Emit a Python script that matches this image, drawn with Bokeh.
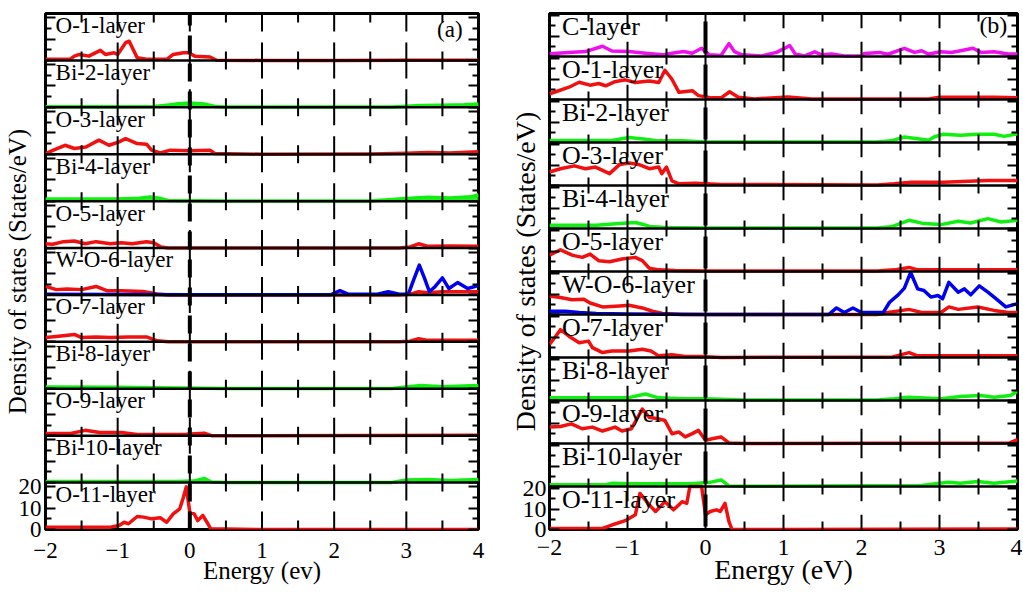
import math
from bokeh.plotting import figure
from bokeh.layouts import row
from bokeh.models import FixedTicker, LinearAxis, CustomJSTickFormatter, Range1d
from bokeh.embed import file_html
from bokeh.resources import INLINE
from bokeh.core.properties import value

FONT = "Liberation Serif"
RED = "#f01010"
GREEN = "#10f010"
BLUE = "#0000ee"
MAGENTA = "#ee10ee"

X_TICKS = [-2, -1, 0, 1, 2, 3, 4]
X_MINOR = [-1.5, -0.5, 0.5, 1.5, 2.5, 3.5]

# ---------------- panel (a) data ----------------
A_NAMES = ["O-1-layer", "Bi-2-layer", "O-3-layer", "Bi-4-layer", "O-5-layer", "W-O-6-layer",
           "O-7-layer", "Bi-8-layer", "O-9-layer", "Bi-10-layer", "O-11-layer"]

A_O1_E = [-2, -1.66, -1.6, -1.53, -1.4, -1.24, -1.17, -1.05, -1.0, -0.89, -0.84, -0.73, -0.6, -0.32, -0.23, -0.09, -0.02, 0.07, 0.28, 0.37, 1.0, 2.0, 3.0, 4.0]
A_O1_V = [0.5, 0.5, 2.0, 2.8, 2.0, 4.7, 2.8, 3.6, 2.8, 8.3, 9.0, 1.2, 0.5, 0.5, 2.8, 3.6, 3.6, 2.0, 1.6, 0.1, 0.0, 0.0, 0.1, 0.1]

A_BI2_E = [-2, -1.0, -0.5, -0.35, -0.2, 0.0, 0.2, 0.35, 0.5, 2.8, 3.2, 3.5, 3.8, 4.0]
A_BI2_V = [0.3, 0.3, 0.4, 0.9, 1.5, 2.0, 1.6, 0.4, 0.1, 0.1, 0.8, 1.0, 1.2, 1.6]

A_O3_E = [-2, -1.89, -1.73, -1.6, -1.44, -1.26, -1.12, -0.98, -0.89, -0.73, -0.6, -0.53, -0.41, -0.27, 0.0, 0.28, 0.35, 1.0, 2.5, 3.0, 3.3, 3.6, 4.0]
A_O3_V = [0.3, 1.9, 4.2, 2.7, 3.4, 6.6, 4.2, 5.8, 7.3, 5.0, 4.7, 1.9, 0.6, 1.9, 1.6, 1.9, 0.3, 0.0, 0.1, 0.4, 0.8, 0.6, 1.2]

A_BI4_E = [-2, -1.5, -1.0, -0.7, -0.55, -0.4, -0.3, 0.5, 2.5, 2.8, 3.0, 3.3, 3.6, 3.9, 4.0]
A_BI4_V = [1.0, 1.0, 1.0, 1.4, 2.0, 1.2, 0.3, 0.1, 0.1, 0.8, 1.2, 1.8, 1.5, 2.0, 3.0]

A_O5_E = [-2, -1.9, -1.75, -1.6, -1.45, -1.3, -1.1, -0.95, -0.8, -0.6, -0.5, -0.4, -0.3, 2.9, 3.05, 3.17, 3.3, 3.6, 4.0]
A_O5_V = [2.0, 1.8, 3.0, 3.3, 2.0, 3.0, 2.0, 2.5, 2.0, 3.0, 2.5, 0.5, 0.0, 0.0, 0.5, 2.0, 0.8, 1.0, 0.8]

A_O6_E = [-2, -1.85, -1.7, -1.5, -1.3, -1.15, -0.95, -0.65, -0.45, -0.3, 2.9, 3.05, 3.17, 3.3, 3.5, 4.0]
A_O6_V = [4.0, 2.5, 2.8, 2.5, 4.0, 2.0, 2.0, 1.6, 0.5, 0.0, 0.0, 0.3, 1.5, 1.0, 1.5, 1.5]

A_W6_E = [-2, -1, 0, 1, 1.95, 2.08, 2.2, 2.6, 2.75, 2.9, 3.03, 3.1, 3.18, 3.25, 3.32, 3.4, 3.5, 3.59, 3.71, 3.85, 3.96, 4.0]
A_W6_V = [0.3, 0.2, 0.1, 0.1, 0.1, 2.0, 0.3, 0.3, 1.5, 0.3, 0.5, 7.0, 14.0, 8.0, 1.5, 4.0, 8.0, 3.0, 5.8, 3.0, 4.0, 5.0]

A_O7_E = [-2, -1.85, -1.6, -1.5, -1.3, -1.1, -0.85, -0.6, -0.45, -0.3, 2.9, 3.05, 3.17, 3.3, 4.0]
A_O7_V = [2.0, 2.5, 3.5, 2.0, 2.3, 2.0, 2.3, 2.3, 0.5, 0.0, 0.0, 0.3, 1.5, 0.7, 0.7]

A_BI8_E = [-2, -1.0, -0.5, 0.5, 2.8, 3.0, 3.2, 3.5, 3.8, 4.0]
A_BI8_V = [0.8, 0.7, 0.5, 0.1, 0.1, 0.8, 1.5, 1.0, 1.3, 1.5]

A_O9_E = [-2, -1.65, -1.45, -1.25, -0.95, -0.7, -0.3, -0.05, 0.2, 0.3, 1.0, 4.0]
A_O9_V = [1.0, 1.0, 2.5, 1.5, 1.5, 0.5, 0.5, 0.7, 1.2, 0.0, 0.0, 0.2]

A_BI10_E = [-2, -1.0, -0.2, 0.05, 0.2, 0.3, 0.5, 2.8, 3.0, 3.3, 3.6, 4.0]
A_BI10_V = [0.5, 0.5, 0.5, 0.7, 2.0, 0.3, 0.1, 0.1, 1.2, 1.5, 1.0, 1.5]

A_O11_E = [-2, -1.1, -0.98, -0.91, -0.85, -0.73, -0.64, -0.53, -0.41, -0.32, -0.23, -0.14, -0.09, -0.05, 0.0, 0.06, 0.11, 0.18, 0.25, 0.29, 1.0, 4.0]
A_O11_V = [1.0, 1.1, 1.9, 3.4, 2.7, 6.1, 5.8, 5.0, 5.5, 3.4, 7.3, 9.7, 15.0, 20.0, 8.0, 7.3, 4.2, 6.6, 2.7, 0.3, 0.0, 0.0]

A_CURVES = [
    [(A_O1_E, A_O1_V, RED, False)],
    [(A_BI2_E, A_BI2_V, GREEN, True)],
    [(A_O3_E, A_O3_V, RED, False)],
    [(A_BI4_E, A_BI4_V, GREEN, True)],
    [(A_O5_E, A_O5_V, RED, False)],
    [(A_O6_E, A_O6_V, RED, False), (A_W6_E, A_W6_V, BLUE, False)],
    [(A_O7_E, A_O7_V, RED, False)],
    [(A_BI8_E, A_BI8_V, GREEN, True)],
    [(A_O9_E, A_O9_V, RED, False)],
    [(A_BI10_E, A_BI10_V, GREEN, True)],
    [(A_O11_E, A_O11_V, RED, False)],
]

# ---------------- panel (b) data ----------------
B_NAMES = ["C-layer", "O-1-layer", "Bi-2-layer", "O-3-layer", "Bi-4-layer", "O-5-layer", "W-O-6-layer",
           "O-7-layer", "Bi-8-layer", "O-9-layer", "Bi-10-layer", "O-11-layer"]

B_C_E = [-2, -1.75, -1.54, -1.32, -1.2, -0.98, -0.77, -0.55, -0.43, -0.28, -0.17, -0.05, 0.05, 0.2, 0.3, 0.37, 0.47, 0.72, 0.91, 1.08, 1.15, 1.27, 1.4, 1.49, 1.62, 1.78, 2.0, 2.04, 2.23, 2.34, 2.55, 2.68, 2.77, 2.86, 3.02, 3.15, 3.27, 3.43, 3.53, 3.7, 3.88, 4.0]
B_C_V = [1.3, 2.0, 2.4, 5.0, 2.7, 2.4, 1.6, 0.8, 1.6, 2.4, 1.6, 4.0, 0.8, 0.5, 6.3, 2.4, 0.8, 0.3, 2.0, 5.3, 1.2, 0.3, 2.3, 0.8, 1.2, 0.3, 0.3, 1.5, 2.0, 1.1, 4.0, 2.0, 2.8, 1.2, 2.3, 2.0, 2.8, 4.0, 2.0, 2.3, 1.2, 1.2]

B_O1_E = [-2, -1.92, -1.75, -1.62, -1.48, -1.37, -1.28, -1.16, -1.03, -0.9, -0.72, -0.6, -0.52, -0.43, -0.34, -0.17, -0.09, 0.08, 0.2, 0.31, 0.42, 0.63, 1.06, 1.36, 2.86, 3.0, 3.7, 4.0]
B_O1_V = [2.8, 3.8, 6.0, 8.4, 7.0, 7.8, 6.7, 8.7, 9.6, 8.3, 9.0, 8.3, 14.3, 9.9, 3.5, 4.3, 1.9, 0.8, 0.8, 3.8, 1.1, 0.3, 1.2, 0.3, 0.3, 1.1, 1.1, 0.8]

B_BI2_E = [-2, -1.2, -0.98, -0.77, -0.6, -0.3, 0.0, 0.5, 2.2, 2.38, 2.55, 2.86, 2.93, 3.04, 3.27, 3.49, 3.7, 3.83, 4.0]
B_BI2_V = [1.0, 1.0, 2.4, 1.6, 0.8, 0.8, 0.3, 0.2, 0.2, 0.8, 2.7, 1.1, 2.7, 4.0, 3.5, 4.0, 4.0, 3.0, 4.3]

B_O3_E = [-2, -1.86, -1.68, -1.54, -1.41, -1.23, -1.1, -0.98, -0.86, -0.72, -0.6, -0.56, -0.5, -0.43, -0.34, -0.13, 0.2, 2.2, 2.42, 2.64, 3.05, 3.62, 4.0]
B_O3_V = [6.6, 8.2, 9.6, 8.2, 9.0, 5.8, 10.3, 11.0, 10.3, 8.2, 9.0, 5.8, 9.0, 2.3, 0.8, 1.1, 0.5, 0.3, 0.8, 1.6, 1.6, 2.4, 2.4]

B_BI4_E = [-2, -1.4, -1.1, -0.9, -0.81, -0.72, -0.52, 0.0, 2.2, 2.38, 2.61, 2.8, 3.02, 3.24, 3.4, 3.62, 3.79, 4.0]
B_BI4_V = [1.6, 1.6, 2.5, 2.9, 2.1, 1.0, 0.5, 0.2, 0.2, 0.8, 4.0, 2.4, 1.9, 3.5, 2.7, 4.8, 3.2, 4.0]

B_O5_E = [-2, -1.86, -1.71, -1.58, -1.48, -1.37, -1.23, -1.07, -0.9, -0.81, -0.72, -0.6, -0.39, 0.0, 2.2, 2.42, 2.61, 2.72, 3.0, 4.0]
B_O5_V = [8.0, 10.6, 8.0, 6.9, 8.5, 5.3, 4.8, 6.1, 6.9, 5.3, 1.6, 0.8, 0.5, 0.3, 0.3, 0.8, 2.0, 0.8, 0.8, 0.8]

B_O6_E = [-2, -1.86, -1.71, -1.56, -1.48, -1.32, -1.1, -0.98, -0.81, -0.68, -0.55, -0.3, 2.2, 2.34, 2.61, 2.77, 3.02, 3.12, 3.24, 3.49, 3.7, 3.88, 4.0]
B_O6_V = [9.0, 8.3, 7.2, 7.5, 5.6, 3.7, 4.2, 4.5, 3.2, 1.6, 0.5, 0.0, 0.0, 1.0, 2.5, 1.0, 1.0, 3.7, 2.5, 3.7, 2.0, 1.0, 1.0]

B_W6_E = [-2, -1.8, -1.62, -1.4, -1.0, 0.0, 1.58, 1.68, 1.78, 1.89, 2.0, 2.28, 2.36, 2.47, 2.55, 2.63, 2.72, 2.8, 2.89, 2.98, 3.04, 3.12, 3.24, 3.32, 3.4, 3.51, 3.62, 3.7, 3.85, 4.0]
B_W6_V = [1.6, 1.6, 1.0, 0.5, 0.3, 0.0, 0.0, 3.2, 1.0, 3.2, 1.0, 1.0, 6.0, 9.6, 12.9, 20.5, 12.5, 11.7, 8.5, 9.3, 7.7, 15.7, 10.9, 12.5, 9.6, 14.0, 10.9, 8.5, 3.7, 5.3]

B_O7_E = [-2, -1.92, -1.86, -1.75, -1.62, -1.5, -1.45, -1.32, -1.2, -0.98, -0.81, -0.7, -0.6, -0.43, -0.26, -0.05, 0.2, 2.4, 2.61, 2.72, 4.0]
B_O7_V = [6.4, 10.4, 13.6, 10.4, 7.2, 8.0, 4.8, 2.4, 3.2, 3.2, 4.0, 3.2, 0.8, 1.3, 0.5, 0.5, 0.0, 0.3, 2.4, 0.8, 0.8]

B_BI8_E = [-2, -1.0, -0.77, -0.6, -0.3, 0.0, 0.5, 2.2, 2.42, 2.6, 3.02, 3.27, 3.53, 3.7, 3.91, 4.0]
B_BI8_V = [1.3, 1.3, 3.2, 1.3, 0.8, 0.8, 0.2, 0.2, 0.8, 1.6, 0.8, 1.9, 2.4, 1.6, 2.4, 4.5]

B_O9_E = [-2, -1.86, -1.72, -1.58, -1.45, -1.32, -1.16, -1.07, -0.95, -0.81, -0.72, -0.6, -0.52, -0.43, -0.34, -0.26, -0.17, -0.09, 0.0, 0.1, 0.2, 0.3, 0.5, 3.9, 4.0]
B_O9_V = [8.0, 8.3, 9.6, 7.2, 8.0, 6.1, 8.0, 6.1, 7.2, 16.8, 12.8, 12.0, 11.2, 4.8, 5.6, 3.2, 4.8, 6.4, 1.6, 2.4, 3.2, 0.3, 0.0, 0.3, 1.9]

B_BI10_E = [-2, -1.3, -1.19, -1.0, -0.2, 0.04, 0.2, 0.3, 0.5, 2.77, 3.11, 3.27, 3.49, 3.7, 4.0]
B_BI10_V = [0.8, 0.8, 1.6, 1.3, 1.3, 1.9, 3.2, 0.3, 0.1, 0.5, 2.1, 1.6, 2.4, 1.6, 2.7]

B_O11_E = [-2, -1.32, -1.16, -1.03, -0.9, -0.84, -0.72, -0.64, -0.52, -0.41, -0.3, -0.24, -0.2, -0.13, -0.05, 0.0, 0.06, 0.14, 0.19, 0.25, 0.3, 0.34, 1.0, 4.0]
B_O11_V = [0.5, 0.5, 2.7, 4.3, 7.2, 17.6, 12.0, 8.8, 13.6, 9.6, 13.6, 12.8, 22.0, 30.0, 28.0, 7.2, 8.8, 9.6, 8.8, 12.8, 4.0, 0.0, 0.0, 0.3]

B_CURVES = [
    [(B_C_E, B_C_V, MAGENTA, False)],
    [(B_O1_E, B_O1_V, RED, False)],
    [(B_BI2_E, B_BI2_V, GREEN, False)],
    [(B_O3_E, B_O3_V, RED, False)],
    [(B_BI4_E, B_BI4_V, GREEN, False)],
    [(B_O5_E, B_O5_V, RED, False)],
    [(B_O6_E, B_O6_V, RED, False), (B_W6_E, B_W6_V, BLUE, False)],
    [(B_O7_E, B_O7_V, RED, False)],
    [(B_BI8_E, B_BI8_V, GREEN, False)],
    [(B_O9_E, B_O9_V, RED, False)],
    [(B_BI10_E, B_BI10_V, GREEN, False)],
    [(B_O11_E, B_O11_V, RED, False)],
]


def build_panel(names, curves, H, W, HT, mb, name_fs, name_x, name_dy_px, tick_fs, axis_fs,
                axis_style, xlabel, ylabel, tag, tag_x, tag_dy_px, tag_fs, xt_major_px, xt_minor_px,
                fermi_mode, xlab_standoff, ylab_standoff, xtitle_standoff, ytitle_standoff):
    n = len(names)
    mb_l, mb_r, mb_t, mb_b = mb
    fh = HT - mb_t - mb_b
    ppu = fh / (n * H)
    top = n * H

    p = figure(width=W, height=HT, x_range=Range1d(-2, 4), y_range=Range1d(0, top),
               x_axis_type=None, y_axis_type=None, output_backend="svg",
               toolbar_location=None, title=None,
               min_border_left=mb_l, min_border_right=mb_r,
               min_border_top=mb_t, min_border_bottom=mb_b)
    p.outline_line_color = "black"
    p.outline_line_width = 3
    p.background_fill_color = "white"
    p.border_fill_color = "white"

    # curves
    for i, layer in enumerate(curves):
        base = (n - 1 - i) * H
        for (E, V, col, fill) in layer:
            y = [base + min(v, H) for v in V]
            if fill:
                p.varea(x=E, y1=[base] * len(E), y2=y, fill_color=col, fill_alpha=0.9)
            p.line(E, y, line_color=col, line_width=3.5, line_join="round")

    # separators between layers
    seps = [k * H for k in range(1, n)]
    p.segment(x0=[-2] * len(seps), y0=seps, x1=[4] * len(seps), y1=seps,
              line_color="black", line_width=2.5)

    # vertical ticks at every layer boundary
    levels = [k * H for k in range(n + 1)]
    inner = [x for x in X_TICKS if -2 < x < 4]
    dM = xt_major_px / ppu
    dm = xt_minor_px / ppu
    mx0, my0, my1 = [], [], []
    for lv in levels:
        for xt in inner:
            mx0.append(xt); my0.append(lv - dM); my1.append(lv + dM)
    p.segment(x0=mx0, y0=my0, x1=mx0, y1=my1, line_color="black", line_width=2)
    nx0, ny0, ny1 = [], [], []
    for lv in levels:
        for xt in X_MINOR:
            nx0.append(xt); ny0.append(lv - dm); ny1.append(lv + dm)
    p.segment(x0=nx0, y0=ny0, x1=nx0, y1=ny1, line_color="black", line_width=2)

    # Fermi level (x = 0), thick dashed
    if fermi_mode == "dash":
        p.line([0, 0], [0, top], line_color="black", line_width=4, line_dash="18 10")
    else:
        fy0 = [k * H + 3 / ppu for k in range(n)]
        fy1 = [(k + 1) * H - 8 / ppu for k in range(n)]
        p.segment(x0=[0] * n, y0=fy0, x1=[0] * n, y1=fy1, line_color="black", line_width=4)

    # layer names
    ny = [(n - 1 - i) * H + name_dy_px / ppu for i in range(n)]
    p.text(x=[name_x] * n, y=ny, text=names, text_font=value(FONT),
           text_font_size=value(f"{name_fs}px"), text_color="black",
           text_align="left", text_baseline="alphabetic")

    # panel tag
    p.text(x=[tag_x], y=[top - tag_dy_px / ppu], text=[tag], text_font=value(FONT),
           text_font_size=value(f"{tag_fs}px"), text_color="black",
           text_align="right", text_baseline="middle")

    # y axes (ticks inward on both sides)
    ymaj, ymin = [], []
    for k in range(n):
        ymaj += [k * H + 0, k * H + 10, k * H + 20]
        ymin += [k * H + 5, k * H + 15]
    ymaj.append(top)
    yt = FixedTicker(ticks=ymaj, minor_ticks=ymin)
    yl = LinearAxis(ticker=yt,
                    formatter=CustomJSTickFormatter(code="return tick <= 20.5 ? tick.toFixed(0) : '';"),
                    major_tick_in=10, major_tick_out=0, minor_tick_in=6, minor_tick_out=0,
                    major_tick_line_width=2, minor_tick_line_width=2, axis_line_color=None,
                    major_label_text_font=FONT, major_label_text_font_size=f"{tick_fs}px",
                    major_label_text_color="black", major_label_standoff=ylab_standoff,
                    axis_label=ylabel, axis_label_text_font=FONT,
                    axis_label_text_font_size=f"{axis_fs}px", axis_label_text_font_style=axis_style,
                    axis_label_text_color="black", axis_label_standoff=ytitle_standoff)
    p.add_layout(yl, "left")
    yr = LinearAxis(ticker=yt, formatter=CustomJSTickFormatter(code="return '';"),
                    major_tick_in=10, major_tick_out=0, minor_tick_in=6, minor_tick_out=0,
                    major_tick_line_width=2, minor_tick_line_width=2, axis_line_color=None,
                    major_label_text_font_size="0px", major_label_standoff=0)
    p.add_layout(yr, "right")

    # x axis labels and title
    xa = LinearAxis(ticker=FixedTicker(ticks=X_TICKS), major_tick_in=0, major_tick_out=0,
                    minor_tick_in=0, minor_tick_out=0, axis_line_color=None,
                    major_label_text_font=FONT, major_label_text_font_size=f"{tick_fs}px",
                    major_label_text_color="black", major_label_standoff=xlab_standoff,
                    axis_label=xlabel, axis_label_text_font=FONT,
                    axis_label_text_font_size=f"{axis_fs}px", axis_label_text_font_style=axis_style,
                    axis_label_text_color="black", axis_label_standoff=xtitle_standoff)
    p.add_layout(xa, "below")
    return p


pa = build_panel(A_NAMES, A_CURVES, H=22, W=506, HT=591, mb=(41, 28, 13, 62),
                 name_fs=23, name_x=-1.86, name_dy_px=35, tick_fs=23, axis_fs=25, axis_style="normal",
                 xlabel="Energy (ev)", ylabel="Density of states (States/eV)",
                 tag="(a)", tag_x=3.78, tag_dy_px=16, tag_fs=23, xt_major_px=18, xt_minor_px=9,
                 fermi_mode="dash", xlab_standoff=13, ylab_standoff=4,
                 xtitle_standoff=-4, ytitle_standoff=-15)

pb = build_panel(B_NAMES, B_CURVES, H=21, W=516, HT=591, mb=(41, 5, 11, 56),
                 name_fs=26, name_x=-1.84, name_dy_px=30, tick_fs=24, axis_fs=28, axis_style="normal",
                 xlabel="Energy (eV)", ylabel="Density of states (States/eV)",
                 tag="(b)", tag_x=3.87, tag_dy_px=12, tag_fs=24, xt_major_px=15, xt_minor_px=8,
                 fermi_mode="seg", xlab_standoff=10, ylab_standoff=3,
                 xtitle_standoff=-4, ytitle_standoff=-21)

layout = row(pa, pb)
open("out.html", "w").write(file_html(layout, INLINE))
